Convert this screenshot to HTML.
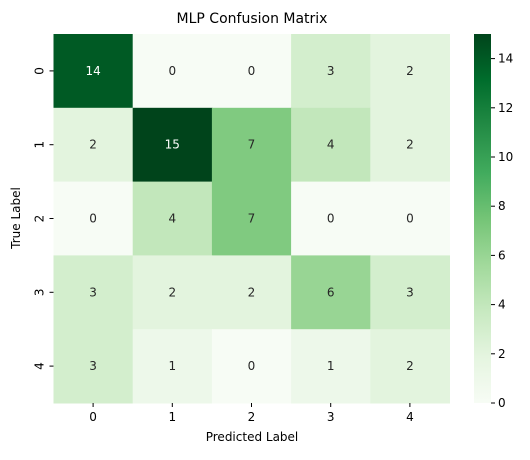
<!DOCTYPE html>
<html><head><meta charset="utf-8"><style>
body{margin:0;background:#fff;font-family:"Liberation Sans","DejaVu Sans",sans-serif;}
</style></head><body>
<svg id="chart" width="530" height="455" viewBox="0 0 530 455" xmlns="http://www.w3.org/2000/svg" font-family="DejaVu Sans, Liberation Sans, sans-serif">
<text x="252" y="23" text-anchor="middle" font-size="14" fill="#000">MLP Confusion Matrix</text>
<g id="cells"></g>
<g id="axes"></g>
<defs><linearGradient id="cbgrad" x1="0" y1="1" x2="0" y2="0">
<stop offset="0" stop-color="#f7fcf5"/><stop offset="0.125" stop-color="#e5f5e0"/><stop offset="0.25" stop-color="#c7e9c0"/><stop offset="0.375" stop-color="#a1d99b"/><stop offset="0.5" stop-color="#74c476"/><stop offset="0.625" stop-color="#41ab5d"/><stop offset="0.75" stop-color="#238b45"/><stop offset="0.875" stop-color="#006d2c"/><stop offset="1" stop-color="#00441b"/>
</linearGradient></defs>
<rect x="474" y="34" width="17" height="369" fill="url(#cbgrad)"/>
<g id="cbticks"></g>
<text x="252" y="441" text-anchor="middle" font-size="12">Predicted Label</text>
<text x="20" y="218" text-anchor="middle" font-size="12" transform="rotate(-90 20 218)">True Label</text>
</svg>
<script>
const predictedLabels = ["0","1","2","3","4"];
const trueLabels = ["0","1","2","3","4"];
const row0 = [14,0,0,3,2];
const row1 = [2,15,7,4,2];
const row2 = [0,4,7,0,0];
const row3 = [3,2,2,6,3];
const row4 = [3,1,0,1,2];
const colorbarTicks = [0,2,4,6,8,10,12,14];
const matrix = [row0,row1,row2,row3,row4];
const NS="http://www.w3.org/2000/svg";
const L=53.5,R=449.5,T=34,B=403;
const vmin=0, vmax=Math.max(...matrix.flat());
const cw=(R-L)/predictedLabels.length, ch=(B-T)/trueLabels.length;
const xPos=i=>L+i*cw, yPos=j=>T+j*ch;
const cbY=v=>B-(v-vmin)/(vmax-vmin)*(B-T);
const stops=["#f7fcf5","#e5f5e0","#c7e9c0","#a1d99b","#74c476","#41ab5d","#238b45","#006d2c","#00441b"].map(h=>[1,3,5].map(k=>parseInt(h.substr(k,2),16)));
function color(v){let t=(v-vmin)/(vmax-vmin)*8;let i=Math.min(7,Math.floor(t));let f=t-i;return stops[i].map((c,k)=>Math.round(c+(stops[i+1][k]-c)*f));}
function lum(c){const l=c.map(x=>{x/=255;return x<=0.03928?x/12.92:Math.pow((x+0.055)/1.055,2.4)});return .2126*l[0]+.7152*l[1]+.0722*l[2];}
const cells=document.getElementById('cells');
matrix.forEach((row,j)=>row.forEach((v,i)=>{
 const c=color(v);
 const r=document.createElementNS(NS,'rect');
 r.setAttribute('x',xPos(i));r.setAttribute('y',yPos(j));r.setAttribute('width',cw+0.5);r.setAttribute('height',ch+0.5);
 r.setAttribute('fill',`rgb(${c})`);
 
 
 cells.appendChild(r);
 const t=document.createElementNS(NS,'text');
 t.setAttribute('x',xPos(i)+cw/2);t.setAttribute('y',yPos(j)+ch/2+4);
 t.setAttribute('text-anchor','middle');t.setAttribute('font-size','12');
 t.setAttribute('fill',lum(c)<0.408?'#fff':'#262626');
 t.textContent=v;
 
 
 cells.appendChild(t);
}));
const ax=document.getElementById('axes');
predictedLabels.forEach((lab,i)=>{
 const x=xPos(i)+cw/2;
 const l=document.createElementNS(NS,'line');l.setAttribute('x1',x);l.setAttribute('x2',x);l.setAttribute('y1',B);l.setAttribute('y2',B+4);l.setAttribute('stroke','#000');
 
 
 ax.appendChild(l);
 const t=document.createElementNS(NS,'text');t.setAttribute('x',x);t.setAttribute('y',B+18);t.setAttribute('text-anchor','middle');t.setAttribute('font-size','12');t.textContent=lab;
 
 
 ax.appendChild(t);
});
trueLabels.forEach((lab,j)=>{
 const y=yPos(j)+ch/2;
 const l=document.createElementNS(NS,'line');l.setAttribute('x1',L-4);l.setAttribute('x2',L);l.setAttribute('y1',y);l.setAttribute('y2',y);l.setAttribute('stroke','#000');
 
 
 ax.appendChild(l);
 const t=document.createElementNS(NS,'text');t.setAttribute('x',L-10);t.setAttribute('y',y);t.setAttribute('text-anchor','middle');t.setAttribute('font-size','12');t.setAttribute('transform',`rotate(-90 ${L-10} ${y})`);t.setAttribute('dy','0');t.textContent=lab;
 
 
 ax.appendChild(t);
});
const cb=document.getElementById('cbticks');
colorbarTicks.forEach(v=>{
 const y=cbY(v);
 const l=document.createElementNS(NS,'line');l.setAttribute('x1',491);l.setAttribute('x2',495);l.setAttribute('y1',y);l.setAttribute('y2',y);l.setAttribute('stroke','#000');
 
 
 cb.appendChild(l);
 const t=document.createElementNS(NS,'text');t.setAttribute('x',498);t.setAttribute('y',y+4);t.setAttribute('font-size','12');t.textContent=v;
 
 
 cb.appendChild(t);
});
</script>
</body></html>
